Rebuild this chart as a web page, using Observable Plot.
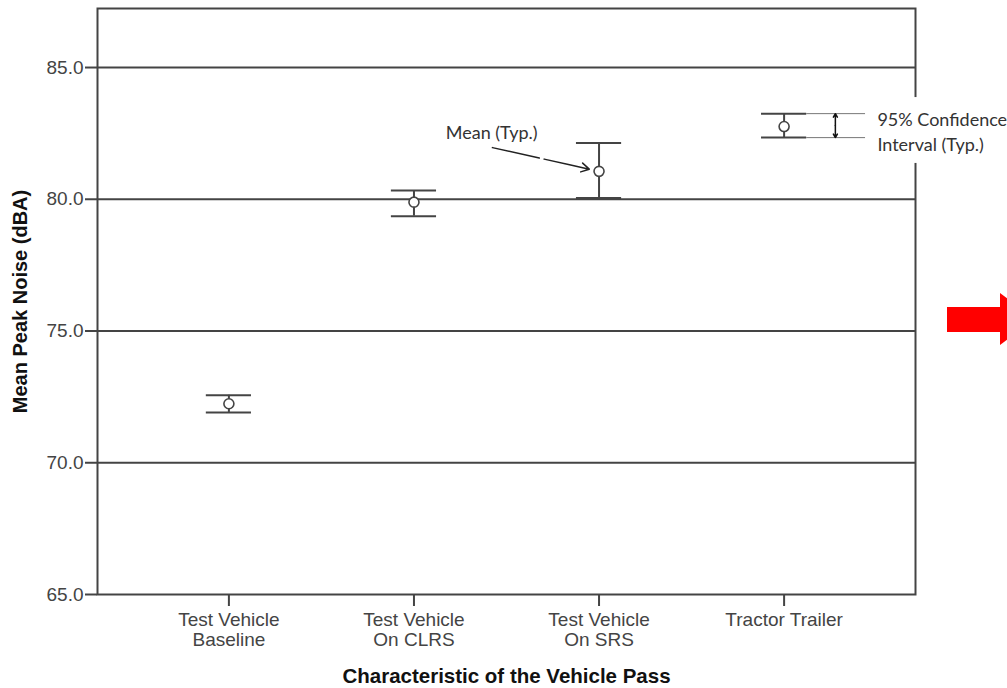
<!DOCTYPE html>
<html>
<head>
<meta charset="utf-8">
<script src="https://cdn.jsdelivr.net/npm/d3@7"></script>
<script src="https://cdn.jsdelivr.net/npm/@observablehq/plot@0.6"></script>
<style>
  html, body { margin: 0; padding: 0; background: #fff; overflow: hidden; }
  #wrap { position: relative; width: 1007px; height: 688px; }
  #wrap svg { display: block; }
  .redbody { position: absolute; left: 947px; top: 307px; width: 54px; height: 25px; background: #ff0000; }
  .redhead { position: absolute; left: 1000px; top: 293px; width: 0; height: 0;
             border-top: 26.5px solid transparent; border-bottom: 26.5px solid transparent; border-left: 34px solid #ff0000; }
</style>
</head>
<body>
<div id="wrap"></div>
<script>
// ---- data ----
const categories = ["Test Vehicle\nBaseline", "Test Vehicle\nOn CLRS", "Test Vehicle\nOn SRS", "Tractor Trailer"];
const means = [72.24, 79.89, 81.06, 82.76];
const lower = [71.91, 79.36, 80.05, 82.34];
const upper = [72.56, 80.33, 82.14, 83.25];
const yTicks = [65, 70, 75, 80, 85];
const gridValues = [70, 75, 80, 85];
const yLabel = "Mean Peak Noise (dBA)";
const xLabel = "Characteristic of the Vehicle Pass";
const meanNote = "Mean (Typ.)";
const ciNote = "95% Confidence\nInterval (Typ.)";

const rows = categories.map((c, i) => ({i, c, mean: means[i], lo: lower[i], hi: upper[i]}));
const cap = 0.122;      // half width of the error-bar caps, in category units
const ink = "#444";
const tr = rows[3];
const srs = rows[2];

const chart = Plot.plot({
  width: 1007,
  height: 688,
  marginLeft: 97,
  marginRight: 92,
  marginTop: 8,
  marginBottom: 94,
  style: {fontFamily: "'Liberation Sans', Arial, sans-serif", background: "white", overflow: "visible"},
  x: {domain: [-0.71, 3.71], axis: null},
  y: {domain: [65, 87.24], axis: null},
  marks: [
    Plot.ruleY(gridValues, {stroke: ink, strokeWidth: 2}),
    Plot.frame({stroke: ink, strokeWidth: 2}),
    Plot.axisY(yTicks, {tickFormat: d3.format(".1f"), tickSize: 12, tickPadding: 2, fontSize: 19, color: ink, strokeWidth: 2, label: null}),
    Plot.axisX([0, 1, 2, 3], {tickFormat: i => categories[i], tickSize: 12, tickPadding: 5, fontSize: 19, color: ink, strokeWidth: 2, lineHeight: 1.05, label: null}),
    // error bars
    Plot.ruleX(rows, {x: "i", y1: "lo", y2: "hi", stroke: ink, strokeWidth: 2}),
    Plot.ruleY(rows, {y: "lo", x1: d => d.i - cap, x2: d => d.i + cap, stroke: ink, strokeWidth: 2}),
    Plot.ruleY(rows, {y: "hi", x1: d => d.i - cap, x2: d => d.i + cap, stroke: ink, strokeWidth: 2}),
    Plot.dot(rows, {x: "i", y: "mean", r: 5, stroke: ink, strokeWidth: 1.6, fill: "white"}),
    // confidence interval annotation
    Plot.ruleY([tr.hi, tr.lo], {y: d => d, x1: tr.i + cap, x2: 3.44, stroke: "#777", strokeWidth: 1}),
    Plot.arrow([tr.hi, tr.lo], {x1: 3.277, x2: 3.277, y1: (tr.hi + tr.lo) / 2, y2: d => d, stroke: "#111", strokeWidth: 1.5, headLength: 7, bend: 0}),
    Plot.rect([0], {x1: 3.655, x2: 4.5, y1: 81.36, y2: 83.86, fill: "white"}),
    Plot.text([ciNote], {x: 3.504, y: 82.62, text: d => d, textAnchor: "start", lineHeight: 1.42, fontSize: 18, fontFamily: "Lato, 'Open Sans', sans-serif", fill: "#333"}),
    // mean annotation
    Plot.arrow([srs], {x1: 1.424, y1: 81.96, x2: "i", y2: "mean", insetEnd: 10, stroke: "#222", strokeWidth: 1.5, headLength: 9, strokeDasharray: "48,5,26,0"}),
    Plot.text([meanNote], {x: 1.42, y: 82.5, text: d => d, fontSize: 18, fontFamily: "Lato, 'Open Sans', sans-serif", fill: "#333"}),
    // axis titles
    Plot.text([yLabel], {frameAnchor: "left", text: d => d, rotate: -90, dx: -77, textAnchor: "middle", lineAnchor: "middle", fontSize: 20, fontWeight: "bold", fill: "#111"}),
    Plot.text([xLabel], {frameAnchor: "bottom", text: d => d, dy: 82, textAnchor: "middle", lineAnchor: "middle", fontSize: 20.5, fontWeight: "bold", fill: "#111"})
  ]
});

const wrap = document.getElementById("wrap");
wrap.appendChild(chart);
const b = document.createElement("div"); b.className = "redbody"; wrap.appendChild(b);
const h = document.createElement("div"); h.className = "redhead"; wrap.appendChild(h);
</script>
</body>
</html>
